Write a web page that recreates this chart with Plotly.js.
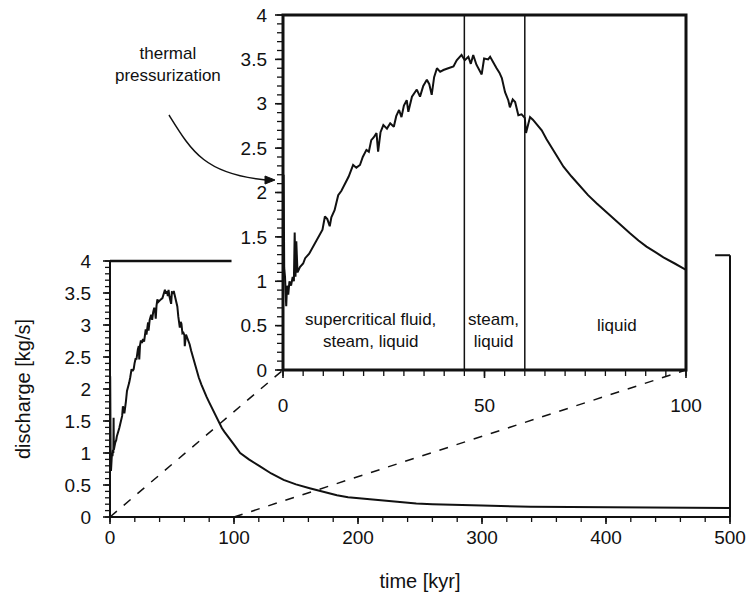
<!DOCTYPE html>
<html>
<head>
<meta charset="utf-8">
<script src="https://cdn.plot.ly/plotly-3.0.1.min.js"></script>
<style>html,body{margin:0;padding:0;background:#fff;}#chart{width:750px;height:592px;}</style>
</head>
<body>
<div id="chart"></div>
<script>
// ---- data ----
const timeKyr = [0, 0.15, 0.3, 0.5, 0.8, 1.0, 1.3, 1.6, 2.0, 2.4, 2.7, 2.9, 3.1, 3.3, 3.6, 4.2,
  5.0, 5.5, 6.5, 7.5, 8.2, 9.0, 9.8, 10.4, 11.0, 11.6, 12.0, 12.8, 13.7, 14.5, 15.5, 16.3, 17.4, 18.2, 19.1, 19.8, 20.7, 21.3, 21.9, 22.5, 23.2, 23.6, 24.2, 24.9,
  25.8, 26.6, 27.5, 28.1, 28.8, 29.4, 30.0, 30.7, 31.1, 32.0, 33.2, 34.0, 34.8, 35.7, 36.3, 36.9, 37.5, 38.2, 39.0, 39.8, 41.0, 42.3, 43.1,
  44.3, 45.1, 46.0, 46.6, 47.2, 48.0, 49.3, 49.9, 50.9, 51.4, 52.2, 53.0, 53.7, 54.3, 55.1, 55.9, 56.3, 57.0, 57.6,
  58.4, 59.2, 60.0, 60.3, 61.3, 62.0, 63.0, 64.2, 65.4, 67.5, 69.6, 71.6, 73.7, 75.7, 77.8, 80.0, 82.0, 84.0, 86.1, 88.2, 90.2, 92.3, 94.4, 97.2, 100,
  105, 112, 121, 130, 140, 150, 161, 172, 183, 192, 202, 212, 223, 235, 247, 260, 274, 300, 339, 395, 460, 500];
const discharge = [0.9, 2.2, 1.15, 1.05, 0.72, 0.95, 0.85, 1.0, 0.95, 1.05, 1.0, 1.55, 1.05, 1.45, 1.1, 1.16,
  1.2, 1.26, 1.31, 1.39, 1.45, 1.52, 1.58, 1.73, 1.70, 1.62, 1.72, 1.80, 1.97, 2.02, 2.1, 2.18, 2.31, 2.28, 2.31, 2.40, 2.48, 2.46, 2.59, 2.62, 2.67, 2.46, 2.68, 2.76,
  2.72, 2.78, 2.74, 2.86, 2.93, 2.85, 2.98, 3.04, 2.91, 3.08, 3.16, 3.08, 3.20, 3.27, 3.22, 3.10, 3.30, 3.40, 3.36, 3.38, 3.40, 3.42, 3.49,
  3.55, 3.49, 3.53, 3.45, 3.55, 3.44, 3.33, 3.51, 3.50, 3.53, 3.46, 3.40, 3.35, 3.29, 3.13, 3.04, 2.96, 3.05, 3.02,
  2.87, 2.88, 2.84, 2.67, 2.85, 2.82, 2.76, 2.70, 2.60, 2.45, 2.29, 2.18, 2.07, 1.97, 1.88, 1.79, 1.71, 1.62, 1.54, 1.46, 1.39, 1.33, 1.27, 1.20, 1.13,
  1.0, 0.90, 0.79, 0.68, 0.58, 0.51, 0.45, 0.39, 0.34, 0.31, 0.29, 0.27, 0.25, 0.23, 0.21, 0.20, 0.19, 0.18, 0.16, 0.15, 0.14, 0.14];
const phaseBounds = [45, 60];
const phaseLabels = ['supercritical fluid,<br>steam, liquid', 'steam,<br>liquid', 'liquid'];
const phaseLabelX = [21.6, 52.2, 82.8];
const phaseLabelY = [0.45, 0.45, 0.5];
const mainXRange = [0, 500], insetXRange = [0, 100], yRange = [0, 4];

// ---- layout geometry ----
const W = 750, H = 592;
const mainXDom = [110 / W, 730 / W];
const mainYDom = [(H - 517) / H, (H - 261) / H];
const inXDom = [283 / W, 686 / W];
const inYDom = [(H - 370) / H, (H - 15) / H];
const FONT = 'Liberation Sans, Arial, Helvetica, sans-serif';
const INK = '#111';

function px(x) { return x / W; }
function py(y) { return 1 - y / H; }
// linear axis value -> paper fraction (same mapping as the axes' linear scales)
function toPaper(v, range, dom) { return dom[0] + (v - range[0]) / (range[1] - range[0]) * (dom[1] - dom[0]); }
const mX = v => toPaper(v, mainXRange, mainXDom), mY = v => toPaper(v, yRange, mainYDom);
const iX = v => toPaper(v, insetXRange, inXDom), iY = v => toPaper(v, yRange, inYDom);

const traces = [
  { x: timeKyr, y: discharge, xaxis: 'x', yaxis: 'y', mode: 'lines', line: { color: INK, width: 2 }, hoverinfo: 'skip' },
  { x: timeKyr, y: discharge, xaxis: 'x2', yaxis: 'y2', mode: 'lines', line: { color: INK, width: 2 }, hoverinfo: 'skip' }
];

const labelAxis = { showgrid: false, zeroline: false, showline: false, ticks: '' };

const shapes = [];
const P = (x0, y0, x1, y1, w, dash) => shapes.push({ type: 'line', xref: 'paper', yref: 'paper', x0, y0, x1, y1, line: { color: INK, width: w, dash: dash || 'solid' } });

// tick marks (unclipped, placed via the linear axis mapping)
function xTicks(fx, yBase, range, step, len, w) {
  const n = Math.round((range[1] - range[0]) / step);
  for (let i = 0; i <= n; i++) { const x = fx(range[0] + i * step); P(x, yBase, x, yBase - len / H, w); }
}
function yTicks(fy, xBase, range, step, len, w) {
  const n = Math.round((range[1] - range[0]) / step);
  for (let i = 0; i <= n; i++) { const y = fy(range[0] + i * step); P(xBase, y, xBase - len / W, y, w); }
}
xTicks(mX, mainYDom[0], mainXRange, 20, 5, 1.3);
xTicks(mX, mainYDom[0], mainXRange, 100, 7, 1.6);
yTicks(mY, mainXDom[0], yRange, 0.1, 5, 1.3);
yTicks(mY, mainXDom[0], yRange, 0.5, 7, 1.6);
xTicks(iX, inYDom[0], insetXRange, 5, 6, 1.3);
xTicks(iX, inYDom[0], insetXRange, 50, 8, 1.6);
yTicks(iY, inXDom[0], yRange, 0.1, 6, 1.3);
yTicks(iY, inXDom[0], yRange, 0.5, 8, 1.6);

// main axis lines and visible frame parts (rest hidden behind inset)
P(mX(0), mY(0), mX(500), mY(0), 2);
P(mX(0), mY(0), mX(0), mY(4), 2);
P(mX(0), mY(4), mX(98), mY(4), 2.5);
P(mX(500), mY(0), mX(500), mY(4.09), 2);
P(mX(488), mY(4.09), mX(500), mY(4.09), 2);
// inset frame
shapes.push({ type: 'rect', xref: 'paper', yref: 'paper', x0: inXDom[0], x1: inXDom[1], y0: inYDom[0], y1: inYDom[1], line: { color: INK, width: 3 }, fillcolor: 'rgba(0,0,0,0)' });
// phase boundaries in inset
phaseBounds.forEach(b => P(iX(b), inYDom[0], iX(b), inYDom[1], 1.5));
// dashed zoom connectors
P(mX(insetXRange[0]), mY(0), iX(insetXRange[0]), iY(0), 1.5, 'dash');
P(mX(insetXRange[1]), mY(0), iX(insetXRange[1]), iY(0), 1.5, 'dash');
// curved arrow stem + head
shapes.push({ type: 'path', xref: 'paper', yref: 'paper',
  path: `M ${px(169)} ${py(115)} C ${px(192)} ${py(152)}, ${px(205)} ${py(174)}, ${px(266)} ${py(180)}`,
  line: { color: INK, width: 1.5 } });
shapes.push({ type: 'path', xref: 'paper', yref: 'paper',
  path: `M ${px(275)} ${py(180)} L ${px(265)} ${py(176)} L ${px(265)} ${py(184)} Z`,
  line: { color: INK, width: 1 }, fillcolor: INK });

const annotations = [
  { xref: 'paper', yref: 'paper', x: px(168), y: py(65), text: 'thermal<br>pressurization', showarrow: false,
    font: { family: FONT, size: 17, color: INK }, xanchor: 'center', yanchor: 'middle' }
];
phaseLabels.forEach((t, i) => annotations.push({ xref: 'x2', yref: 'y2', x: phaseLabelX[i], y: phaseLabelY[i], text: t, showarrow: false,
  font: { family: FONT, size: 17, color: INK }, xanchor: 'center', yanchor: 'middle' }));

const tickfont = { family: FONT, size: 19, color: INK };
const titlefont = { family: FONT, size: 20, color: INK };

const layout = {
  width: W, height: H, margin: { l: 0, r: 0, t: 0, b: 0 }, showlegend: false,
  paper_bgcolor: '#fff', plot_bgcolor: '#fff', font: { family: FONT, size: 19, color: INK },
  xaxis: Object.assign({}, labelAxis, { domain: mainXDom, anchor: 'y', range: mainXRange, dtick: 100, tickfont, ticklabelstandoff: 7,
    title: { text: 'time [kyr]', font: titlefont, standoff: 28 } }),
  yaxis: Object.assign({}, labelAxis, { domain: mainYDom, anchor: 'x', range: yRange, dtick: 0.5, tickfont, ticklabelstandoff: 18,
    title: { text: 'discharge [kg/s]', font: titlefont, standoff: 28 } }),
  xaxis2: Object.assign({}, labelAxis, { domain: inXDom, anchor: 'y2', range: insetXRange, dtick: 50, tickfont, ticklabelstandoff: 22 }),
  yaxis2: Object.assign({}, labelAxis, { domain: inYDom, anchor: 'x2', range: yRange, dtick: 0.5, tickfont, ticklabelstandoff: 15 }),
  shapes: shapes, annotations: annotations
};

Plotly.newPlot('chart', traces, layout, { staticPlot: true, displayModeBar: false });
</script>
</body>
</html>
